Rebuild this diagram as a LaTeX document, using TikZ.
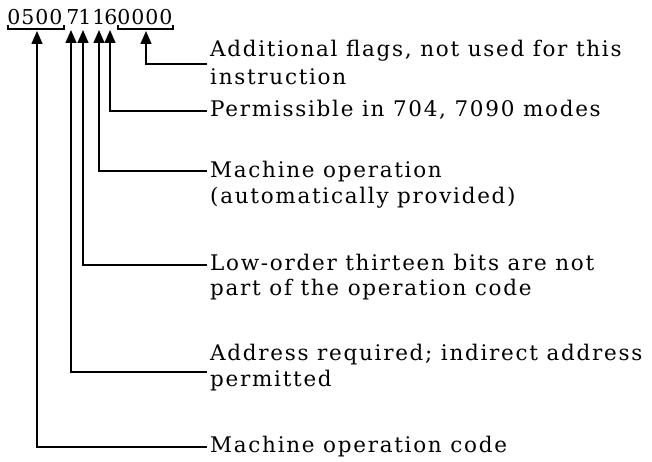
\documentclass[tikz,border=0pt]{standalone}
\usepackage{fontspec}
\setmainfont{DejaVu Serif}
\newfontfamily\lblfont[LetterSpace=8]{DejaVu Serif}
\usetikzlibrary{arrows.meta}
\begin{document}
\begin{tikzpicture}[x=1pt,y=-1pt,
  lbl/.style={anchor=base west,inner sep=0pt,font=\lblfont\fontsize{21.5}{24}\selectfont},
  dig/.style={anchor=base,inner sep=0pt,font=\fontsize{20.5}{24}\selectfont},
  lead/.style={line width=1.4pt,-{Triangle[length=13pt,width=11pt]}},
  brk/.style={line width=1.2pt}]
\useasboundingbox (0,0) rectangle (652,462);
% digits
\foreach \i/\x/\d in {1/14/0,2/28/5,3/42/0,4/56/0,5/73/7,6/85/1,7/99/1,8/111/6,9/124/0,10/138/0,11/152/0,12/166/0}
  \node[dig] (d\i) at (\x,25) {\d};
% brackets
\draw[brk] (8,25) -- (8,29) -- (64,29) -- (64,25);
\draw[brk] (118,25) -- (118,29) -- (173,29) -- (173,25);
% arrow tips
\coordinate (p1) at (37,31);
\coordinate (p2) at (71,30);
\coordinate (p3) at (83,30);
\coordinate (p4) at (99,30);
\coordinate (p5) at (110,30);
\coordinate (p6) at (146,31);
% labels
\node[lbl] (t6a) at (210,57) {Additional flags,\ not used for this};
\node[lbl] (t6b) at (210,85) {instruction};
\node[lbl] (t5) at (210,117) {Permissible in 704,\ 7090 modes};
\node[lbl] (t4a) at (210,178) {Machine operation};
\node[lbl] (t4b) at (210,204) {(automatically provided)};
\node[lbl] (t3a) at (210,270) {Low-order thirteen bits are not};
\node[lbl] (t3b) at (210,295) {part of the operation code};
\node[lbl] (t2a) at (210,360) {Address required; indirect address};
\node[lbl] (t2b) at (210,386) {permitted};
\node[lbl] (t1) at (210,452) {Machine operation code};
% leader ends
\coordinate (e6) at (207,64);
\coordinate (e5) at (207,111);
\coordinate (e4) at (207,171);
\coordinate (e3) at (207,265);
\coordinate (e2) at (207,372);
\coordinate (e1) at (207,447);
\foreach \i in {1,...,6}
  \draw[lead] (e\i) -| (p\i);
\end{tikzpicture}
\end{document}
